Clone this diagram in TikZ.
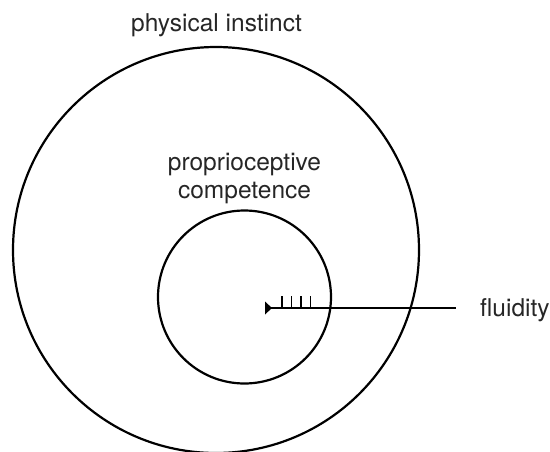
\documentclass[tikz,border=0pt]{standalone}
\usepackage{fontspec}
\setmainfont{TeX Gyre Heros}
\begin{document}
\begin{tikzpicture}[x=1pt,y=-1pt,
  ring/.style={draw=black,line width=2.2pt,circle,inner sep=0pt},
  lbl/.style={font=\fontsize{24.5}{28}\selectfont,text=black!85,inner sep=0pt,anchor=base},
  conn/.style={line width=2.3pt},
  tick/.style={line width=1.8pt}]
\useasboundingbox (0,0) rectangle (550,451);
\node[ring,minimum size=406pt] (outer) at (216,250) {};
\node[ring,minimum size=173pt] (inner) at (244.5,297) {};
\node[lbl] (phys) at (216.5,31) {physical instinct};
\node[lbl] (prop1) at (244.5,170.5) {proprioceptive};
\node[lbl] (prop2) at (244.5,198.5) {competence};
\node[lbl,anchor=base west] (fl) at (480,316.5) {fluidity};
\coordinate (tail) at (265,308);
\draw[conn] (tail) -- (455.6,308 |- tail) coordinate (lend);
\fill (tail) ++(0,-6.5) -- ++(7,6.5) -- ++(-7,6.5) -- cycle;
\foreach \x in {282,291.5,301,310.5}
  \draw[tick] (\x,308) -- (\x,296);
\end{tikzpicture}
\end{document}
